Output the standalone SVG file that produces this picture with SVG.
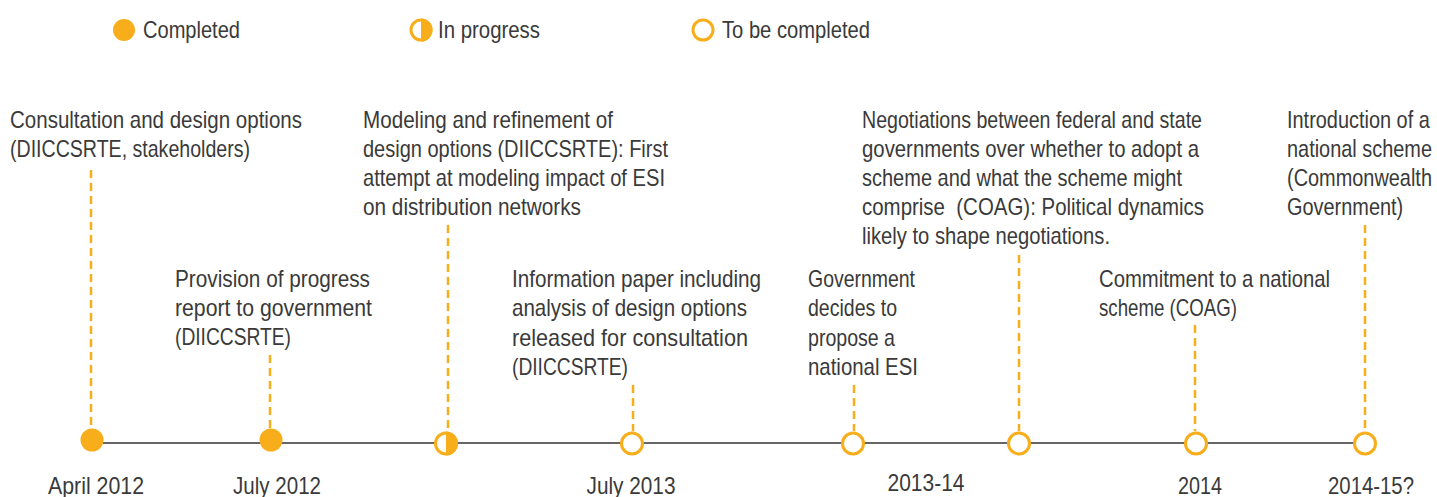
<svg xmlns="http://www.w3.org/2000/svg" width="1437" height="497" viewBox="0 0 1437 497">
<style>
  text { font-family: "Liberation Sans", Arial, sans-serif; font-size: 24px; fill: #3a3a3a; }
  .dash { stroke: #F8AE1A; stroke-width: 2.5; stroke-dasharray: 8 5; fill: none; }
  .done { fill: #F8AE1A; }
  .todo { fill: #ffffff; stroke: #F8AE1A; stroke-width: 3; }
  .half { fill: #F8AE1A; }
  .axis { stroke: #666666; stroke-width: 2; }
</style>
<rect width="1437" height="497" fill="#ffffff"/>

<g id="legend">
  <circle class="done" cx="124" cy="30" r="11"/>
  <text x="143" y="38" textLength="97" lengthAdjust="spacingAndGlyphs">Completed</text>
  <circle class="todo" cx="421" cy="30" r="10"/>
  <path class="half" d="M421,18.5 A11.5,11.5 0 0 1 421,41.5 Z"/>
  <text x="438" y="38" textLength="102" lengthAdjust="spacingAndGlyphs">In progress</text>
  <circle class="todo" cx="703" cy="30" r="10"/>
  <text x="722" y="38" textLength="148" lengthAdjust="spacingAndGlyphs">To be completed</text>
</g>

<g id="connectors">
  <line class="axis" x1="92" y1="443" x2="1365" y2="443"/>
  <line class="dash" x1="91" y1="170" x2="91" y2="428"/>
  <line class="dash" x1="270" y1="355" x2="270" y2="428"/>
  <line class="dash" x1="448" y1="225" x2="448" y2="431"/>
  <line class="dash" x1="633" y1="385" x2="633" y2="431"/>
  <line class="dash" x1="854" y1="385" x2="854" y2="431"/>
  <line class="dash" x1="1019" y1="255" x2="1019" y2="431"/>
  <line class="dash" x1="1195" y1="325" x2="1195" y2="431"/>
  <line class="dash" x1="1365" y1="225" x2="1365" y2="431"/>
</g>

<g id="m-apr2012">
  <circle class="done" cx="92" cy="440" r="11.5"/>
  <text x="96" y="494" text-anchor="middle" textLength="96" lengthAdjust="spacingAndGlyphs">April 2012</text>
  <text x="10" y="128" textLength="292" lengthAdjust="spacingAndGlyphs">Consultation and design options</text>
  <text x="10" y="157" textLength="240" lengthAdjust="spacingAndGlyphs">(DIICCSRTE, stakeholders)</text>
</g>

<g id="m-jul2012">
  <circle class="done" cx="271" cy="440" r="11.5"/>
  <text x="277" y="494" text-anchor="middle" textLength="88" lengthAdjust="spacingAndGlyphs">July 2012</text>
  <text x="175" y="287" textLength="195" lengthAdjust="spacingAndGlyphs">Provision of progress</text>
  <text x="175" y="316" textLength="197" lengthAdjust="spacingAndGlyphs">report to government</text>
  <text x="175" y="345" textLength="116" lengthAdjust="spacingAndGlyphs">(DIICCSRTE)</text>
</g>

<g id="m-modeling">
  <circle class="todo" cx="446" cy="443.5" r="10.5"/>
  <path class="half" d="M446,431.5 A12,12 0 0 1 446,455.5 Z"/>
  <text x="363" y="128" textLength="250" lengthAdjust="spacingAndGlyphs">Modeling and refinement of</text>
  <text x="363" y="157" textLength="305" lengthAdjust="spacingAndGlyphs">design options (DIICCSRTE): First</text>
  <text x="363" y="186" textLength="302" lengthAdjust="spacingAndGlyphs">attempt at modeling impact of ESI</text>
  <text x="363" y="215" textLength="218" lengthAdjust="spacingAndGlyphs">on distribution networks</text>
</g>

<g id="m-jul2013">
  <circle class="todo" cx="632" cy="443.5" r="10.5"/>
  <text x="631" y="494" text-anchor="middle" textLength="89" lengthAdjust="spacingAndGlyphs">July 2013</text>
  <text x="512" y="287" textLength="249" lengthAdjust="spacingAndGlyphs">Information paper including</text>
  <text x="512" y="316" textLength="235" lengthAdjust="spacingAndGlyphs">analysis of design options</text>
  <text x="512" y="346" textLength="236" lengthAdjust="spacingAndGlyphs">released for consultation</text>
  <text x="512" y="375" textLength="116" lengthAdjust="spacingAndGlyphs">(DIICCSRTE)</text>
</g>

<g id="m-government">
  <circle class="todo" cx="853" cy="443.5" r="10.5"/>
  <text x="808" y="287" textLength="107" lengthAdjust="spacingAndGlyphs">Government</text>
  <text x="808" y="316" textLength="89" lengthAdjust="spacingAndGlyphs">decides to</text>
  <text x="808" y="346" textLength="87" lengthAdjust="spacingAndGlyphs">propose a</text>
  <text x="808" y="375" textLength="110" lengthAdjust="spacingAndGlyphs">national ESI</text>
</g>

<g id="m-negotiations">
  <circle class="todo" cx="1019" cy="443.5" r="10.5"/>
  <text x="926" y="491" text-anchor="middle" textLength="77" lengthAdjust="spacingAndGlyphs">2013-14</text>
  <text x="862" y="128" textLength="340" lengthAdjust="spacingAndGlyphs">Negotiations between federal and state</text>
  <text x="862" y="157" textLength="337" lengthAdjust="spacingAndGlyphs">governments over whether to adopt a</text>
  <text x="862" y="186" textLength="320" lengthAdjust="spacingAndGlyphs">scheme and what the scheme might</text>
  <text x="862" y="215" textLength="342" lengthAdjust="spacingAndGlyphs" xml:space="preserve">comprise  (COAG): Political dynamics</text>
  <text x="862" y="244" textLength="248" lengthAdjust="spacingAndGlyphs">likely to shape negotiations.</text>
</g>

<g id="m-2014">
  <circle class="todo" cx="1196" cy="443.5" r="10.5"/>
  <text x="1200" y="494" text-anchor="middle" textLength="44" lengthAdjust="spacingAndGlyphs">2014</text>
  <text x="1099" y="287" textLength="231" lengthAdjust="spacingAndGlyphs">Commitment to a national</text>
  <text x="1099" y="316" textLength="138" lengthAdjust="spacingAndGlyphs">scheme (COAG)</text>
</g>

<g id="m-2014-15">
  <circle class="todo" cx="1365" cy="443.5" r="10.5"/>
  <text x="1371" y="494" text-anchor="middle" textLength="86" lengthAdjust="spacingAndGlyphs">2014-15?</text>
  <g transform="translate(1287 0) scale(0.83 1)">
    <text x="0" y="128">Introduction of a</text>
    <text x="0" y="157">national scheme</text>
    <text x="0" y="186">(Commonwealth</text>
    <text x="0" y="215">Government)</text>
  </g>
</g>
</svg>
